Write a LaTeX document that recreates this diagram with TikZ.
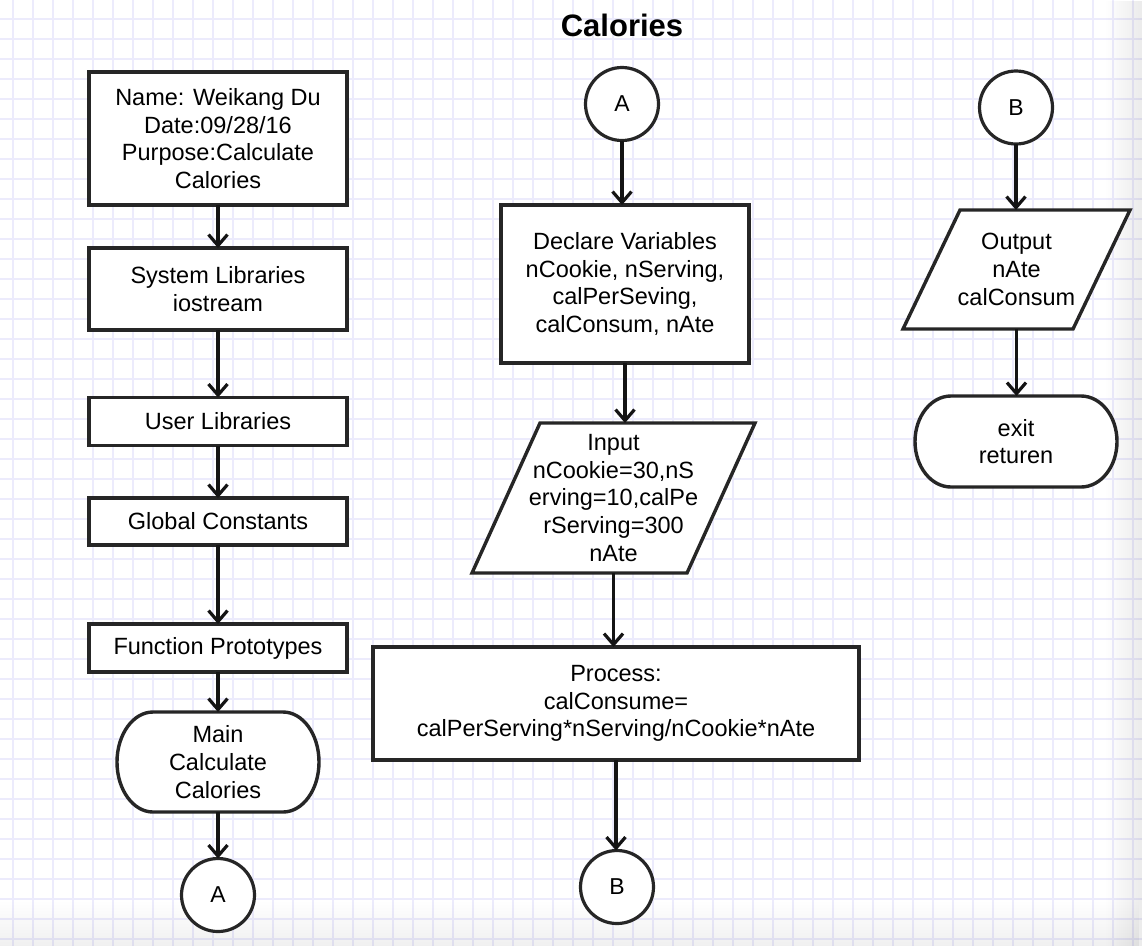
\documentclass[tikz,border=0pt]{standalone}
\usepackage{fontspec}
\setmainfont{Liberation Sans}
\usetikzlibrary{arrows.meta,fadings}
\pgfdeclarelayer{gridlayer}
\pgfdeclarelayer{shapelayer}
\pgfsetlayers{gridlayer,shapelayer,main}
\definecolor{gridc}{RGB}{236,235,252}
\definecolor{ink}{RGB}{38,38,38}
\definecolor{arrowink}{RGB}{20,20,20}
\tikzset{
  txt/.style={align=center, font=\fontsize{23.5}{27.6}\selectfont, inner sep=0pt, outer sep=0pt, text=black},
  procbox/.style={txt, rectangle, draw=ink, line width=3.8pt, fill=white},
  holder/.style={txt, rectangle, draw=none},
  shapeline/.style={draw=ink, line width=3.4pt, fill=white, line join=miter},
  connector/.style={circle, draw=ink, line width=3.2pt, fill=white, minimum size=73pt,
    inner sep=0pt, outer sep=0pt, font=\fontsize{23}{27}\selectfont},
  arr/.style={draw=arrowink, line width=3.2pt, -{Straight Barb[length=11pt,width=19pt]}},
  gridline/.style={draw=gridc, line width=1.3pt}
}
\begin{document}
\begin{tikzpicture}[x=1pt,y=-1pt]
\useasboundingbox (0,0) rectangle (1142,946);
\begin{pgfonlayer}{gridlayer}
  \fill[white] (0,0) rectangle (1142,946);
  \foreach \gx in {13,33,...,1133} \draw[gridline] (\gx,0) -- (\gx,946);
  \foreach \gy in {19,39,...,939} \draw[gridline] (0,\gy) -- (1142,\gy);
  \fill[black, fill opacity=0.06, path fading=north] (0,900) rectangle (1142,946);
  \fill[black, fill opacity=0.08, path fading=west] (1105,0) rectangle (1142,946);
\end{pgfonlayer}

% title
\node[font=\fontsize{31}{36}\selectfont\bfseries, anchor=base, inner sep=0pt] (title) at (622,36) {Calories};

% left column
\node[procbox, minimum width=258pt, minimum height=133pt] (info) at (218,138.5)
  {Name: Weikang Du\\Date:09/28/16\\Purpose:Calculate\\Calories};
\node[procbox, minimum width=258pt, minimum height=82pt] (syslib) at (218,289)
  {System Libraries\\iostream};
\node[procbox, minimum width=258pt, minimum height=48pt] (userlib) at (218,421.5)
  {User Libraries};
\node[procbox, minimum width=258pt, minimum height=47pt] (globconst) at (218,521.5)
  {Global Constants};
\node[procbox, minimum width=258pt, minimum height=48pt] (funcproto) at (218,648)
  {Function Prototypes};
\node[holder, minimum width=202pt, minimum height=100pt] (mainterm) at (218,762)
  {Main\\Calculate\\Calories};
\node[connector] (conA1) at (218,895) {A};

% middle column
\node[connector] (conA2) at (622,104) {A};
\node[procbox, minimum width=248pt, minimum height=158pt] (declare) at (625,284)
  {Declare Variables\\nCookie, nServing,\\calPerSeving,\\calConsum, nAte};
\node[holder, minimum width=215pt, minimum height=150pt] (input) at (613.5,498)
  {Input\\nCookie=30,nS\\erving=10,calPe\\rServing=300\\nAte};
\node[procbox, minimum width=486pt, minimum height=113pt] (process) at (616,703.5)
  {Process:\\calConsume=\\calPerServing*nServing/nCookie*nAte};
\node[connector] (conB1) at (617,887) {B};

% right column
\node[connector] (conB2) at (1016,107.5) {B};
\node[holder, minimum width=170pt, minimum height=119pt] (output) at (1016.5,269.5)
  {Output\\nAte\\calConsum};
\node[holder, minimum width=202pt, minimum height=91pt] (exitterm) at (1016,441.5)
  {exit\\returen};

% shapes drawn behind the text holders
\begin{pgfonlayer}{shapelayer}
  \draw[shapeline] ([xshift=-34pt]input.south west) -- ([xshift=-34pt]input.south east)
    -- ([xshift=34pt]input.north east) -- ([xshift=34pt]input.north west) -- cycle;
  \draw[shapeline] ([xshift=-28.5pt]output.south west) -- ([xshift=-28.5pt]output.south east)
    -- ([xshift=28.5pt]output.north east) -- ([xshift=28.5pt]output.north west) -- cycle;
  \draw[shapeline] ([xshift=36pt]mainterm.north west) -- ([xshift=-36pt]mainterm.north east)
    arc[start angle=90, end angle=-90, x radius=36pt, y radius=50pt]
    -- ([xshift=36pt]mainterm.south west)
    arc[start angle=270, end angle=90, x radius=36pt, y radius=50pt] -- cycle;
  \draw[shapeline] ([xshift=36pt]exitterm.north west) -- ([xshift=-36pt]exitterm.north east)
    arc[start angle=90, end angle=-90, x radius=36pt, y radius=45.5pt]
    -- ([xshift=36pt]exitterm.south west)
    arc[start angle=270, end angle=90, x radius=36pt, y radius=45.5pt] -- cycle;
\end{pgfonlayer}

% connectors
\draw[arr] (info.south) -- (syslib.north);
\draw[arr] (syslib.south) -- (userlib.north);
\draw[arr] (userlib.south) -- (globconst.north);
\draw[arr] (globconst.south) -- (funcproto.north);
\draw[arr] (funcproto.south) -- (mainterm.north);
\draw[arr] (mainterm.south) -- (conA1.north);

\draw[arr] (conA2.south) -- (conA2.south |- declare.north);
\draw[arr] (declare.south) -- (declare.south |- input.north);
\draw[arr] (input.south) -- (input.south |- process.north);
\draw[arr] (process.south) -- (process.south |- conB1.north);

\draw[arr] (conB2.south) -- (conB2.south |- output.north);
\draw[arr] (output.south) -- (output.south |- exitterm.north);
\end{tikzpicture}
\end{document}
